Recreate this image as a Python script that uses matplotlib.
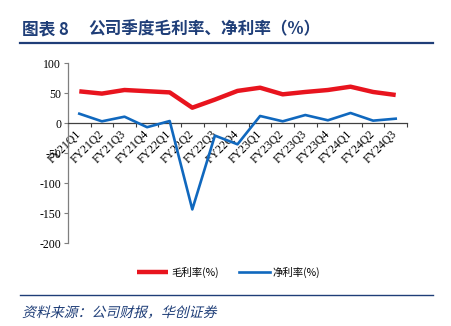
import matplotlib
matplotlib.use("Agg")
import matplotlib.pyplot as plt
from matplotlib.lines import Line2D
from matplotlib.patches import PathPatch
from matplotlib.textpath import TextPath
from matplotlib.font_manager import FontProperties
from matplotlib.transforms import Affine2D, IdentityTransform

NAVY = "#1f3e78"
RED = "#e8141e"
BLUE = "#1068be"
GRAY = "#7f7f7f"
CJK = ["Noto Sans CJK SC", "DejaVu Sans"]
SERIF = "Liberation Serif"
W, H = 451, 326

quarters = ["FY21Q1", "FY21Q2", "FY21Q3", "FY21Q4", "FY22Q1", "FY22Q2",
            "FY22Q3", "FY22Q4", "FY23Q1", "FY23Q2", "FY23Q3", "FY23Q4",
            "FY24Q1", "FY24Q2", "FY24Q3"]
gross_margin = [52.8, 49.0, 55.0, 53.0, 51.0, 25.5, 39.0, 53.5, 58.8, 47.8,
                51.7, 55.0, 60.5, 51.7, 46.7]
net_margin = [15.5, 2.8, 10.5, -7.0, 3.3, -144.0, -21.0, -35.5, 11.7, 2.8,
              13.3, 4.5, 16.7, 3.9, 7.2]
yticks = [100, 50, 0, -50, -100, -150, -200]

fig = plt.figure(figsize=(W / 100, H / 100), dpi=100, facecolor="white")

# header + rule
fig.text(22 / W, 1 - 29 / H, "图表 8", ha="left", va="center", color=NAVY,
         fontsize=12, fontweight="bold", family=CJK)
fig.text(88 / W, 1 - 29 / H, "公司季度毛利率、净利率（%）", ha="left",
         va="center", color=NAVY, fontsize=12, fontweight="bold",
         family=CJK)
fig.add_artist(Line2D([20 / W, 433 / W], [1 - 42.5 / H] * 2,
                      color=NAVY, lw=1.6))

ax = fig.add_axes([68 / W, 1 - 243 / H, (407 - 68) / W, 180 / H])
x = list(range(len(quarters)))
ax.plot(x, gross_margin, color=RED, lw=3.2, solid_capstyle="butt",
        label="毛利率(%)", zorder=3)
ax.plot(x, net_margin, color=BLUE, lw=1.9, label="净利率(%)", zorder=3)

ax.set_xlim(-0.5, len(quarters) - 0.5)
ax.set_ylim(-200, 100)
ax.set_yticks(yticks)
ax.set_yticklabels([str(v) for v in yticks], family=SERIF, fontsize=8.5)
ax.tick_params(axis="y", direction="out", length=3, width=0.8, color=GRAY,
               pad=2)

for s in ("top", "right"):
    ax.spines[s].set_visible(False)
ax.spines["left"].set_color(GRAY)
ax.spines["left"].set_linewidth(0.9)
ax.spines["bottom"].set_position(("data", 0))
ax.spines["bottom"].set_color("#404040")
ax.spines["bottom"].set_linewidth(0.9)

ax.set_xticks(x)
ax.set_xticklabels(quarters, rotation=45, ha="right", va="center",
                   rotation_mode="anchor", family=SERIF, fontsize=8.5)
ax.tick_params(axis="x", which="major", length=0, pad=7)
ax.set_xticks([i - 0.5 for i in range(len(quarters) + 1)], minor=True)
ax.tick_params(axis="x", which="minor", direction="out", length=3,
               width=0.8, color="#404040")

ax.legend(loc="center", bbox_to_anchor=(0.474, -29 / 180), ncol=2,
          frameon=False, prop={"family": CJK, "size": 7.5},
          handlelength=3.0, columnspacing=1.9, handletextpad=0.3)

# footer rule + slanted source line
fig.add_artist(Line2D([20 / W, 433 / W], [1 - 295 / H] * 2,
                      color=NAVY, lw=1.0))
src = TextPath((0, 0), "资料来源：公司财报，华创证券", size=10,
               prop=FontProperties(family="Noto Sans CJK SC"))
slant = Affine2D().skew_deg(14, 0).scale(100 / 72).translate(22, H - 317)
fig.add_artist(PathPatch(slant.transform_path(src), facecolor=NAVY,
                         edgecolor="none", transform=IdentityTransform()))

fig.savefig("out.png", dpi=100, facecolor="white")
